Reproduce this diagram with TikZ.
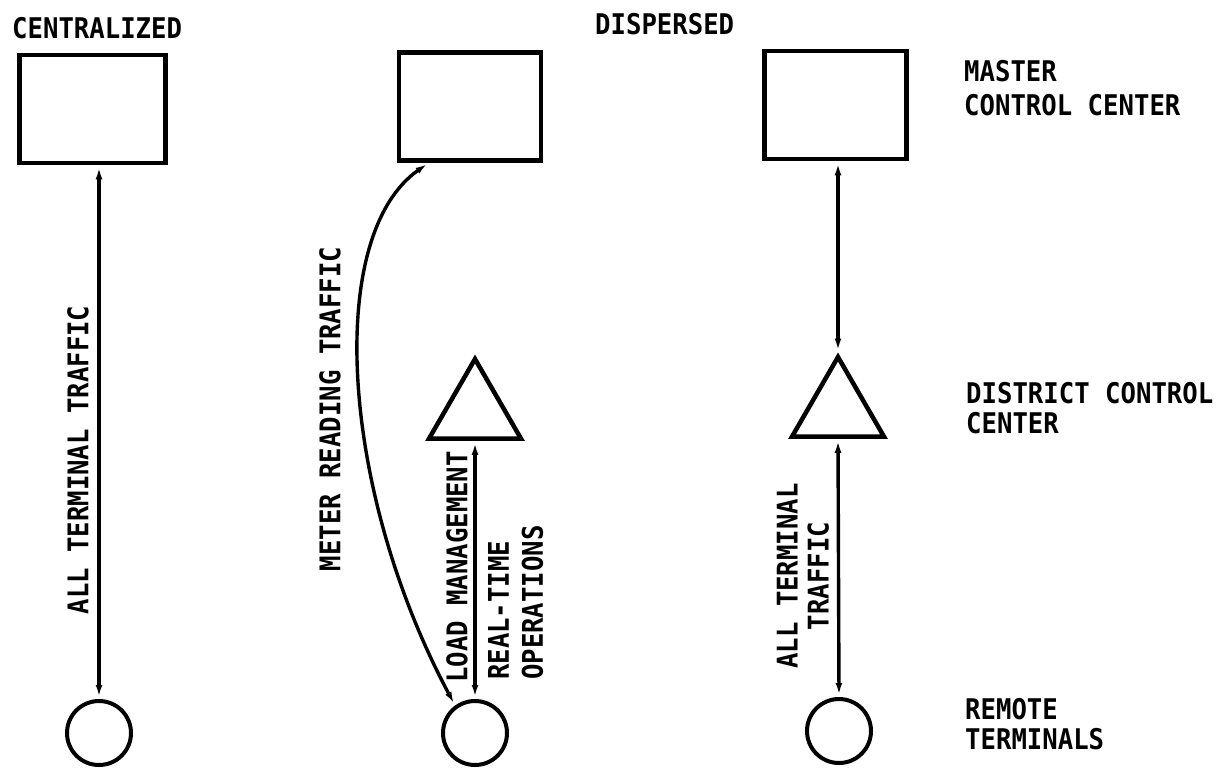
\documentclass[tikz,border=0pt]{standalone}
\usepackage{fontspec}
\newfontfamily\lblfont{DejaVu Sans Mono}[FakeStretch=0.9]
\usetikzlibrary{shapes.geometric,arrows.meta,calc}
\begin{document}
\begin{tikzpicture}[x=1pt,y=-1pt,
  lbl/.style={font=\lblfont\bfseries\fontsize{28.5}{33}\selectfont, inner sep=0pt},
  boxnode/.style={draw, line width=4.5pt, minimum width=142pt, minimum height=108pt, inner sep=0pt},
  circnode/.style={draw, circle, line width=4pt, minimum size=64pt, inner sep=0pt},
  trinode/.style={draw, regular polygon, regular polygon sides=3, line width=4.5pt, minimum size=106pt, inner sep=0pt},
  conn/.style={line width=3.4pt, {Latex[length=14pt,width=6.5pt]}-{Latex[length=14pt,width=6.5pt]}}
]
\useasboundingbox (0,0) rectangle (1221,769);
\fill[white] (0,0) rectangle (1221,769);

% boxes
\node[boxnode, minimum width=146pt] (b1) at (92.5,109) {};
\node[boxnode] (b2) at (470,106.5) {};
\node[boxnode] (b3) at (835.5,105) {};

% triangles
\node[trinode] (t2) at (475,412) {};
\node[trinode] (t3) at (838,410) {};

% circles
\node[circnode] (c1) at (99,733) {};
\node[circnode] (c2) at (475,733) {};
\node[circnode] (c3) at (839,731) {};

% connectors
\draw[conn] (b1.south -| c1.north) -- (c1.north);
\draw[conn] ($(b2.south west)!0.22!(b2.south east)$) .. controls (325,235) and (340,490) .. (c2.126);
\draw[conn] (t2.south) -- (c2.north);
\draw[conn] (b3.south -| t3.north) -- (t3.north);
\draw[conn] (t3.south) -- (c3.north);

% horizontal labels
\node[lbl, anchor=north west] (tcen) at (12,17) {CENTRALIZED};
\node[lbl, anchor=north west] (tdis) at (595,13) {DISPERSED};
\node[lbl, anchor=north west, align=left] (tmcc) at (964,60) {MASTER\\[1pt]CONTROL CENTER};
\node[lbl, anchor=north west, align=left] (tdcc) at (966,382) {DISTRICT CONTROL\\[-3pt]CENTER};
\node[lbl, anchor=north west, align=left] (trem) at (965,698) {REMOTE\\[-3pt]TERMINALS};

% rotated labels
\node[lbl, rotate=90] (lall1) at (78,460) {ALL TERMINAL TRAFFIC};
\node[lbl, rotate=90] (lmeter) at (330,409) {METER READING TRAFFIC};
\node[lbl, rotate=90] (lload) at (457,567) {LOAD MANAGEMENT};
\node[lbl, rotate=90, align=left, anchor=north west] (lreal) at (488,680) {REAL-TIME\\[1pt]OPERATIONS};
\node[lbl, rotate=90, align=center] (lall2) at (803,576) {ALL TERMINAL\\[-2pt]TRAFFIC};
\end{tikzpicture}
\end{document}
